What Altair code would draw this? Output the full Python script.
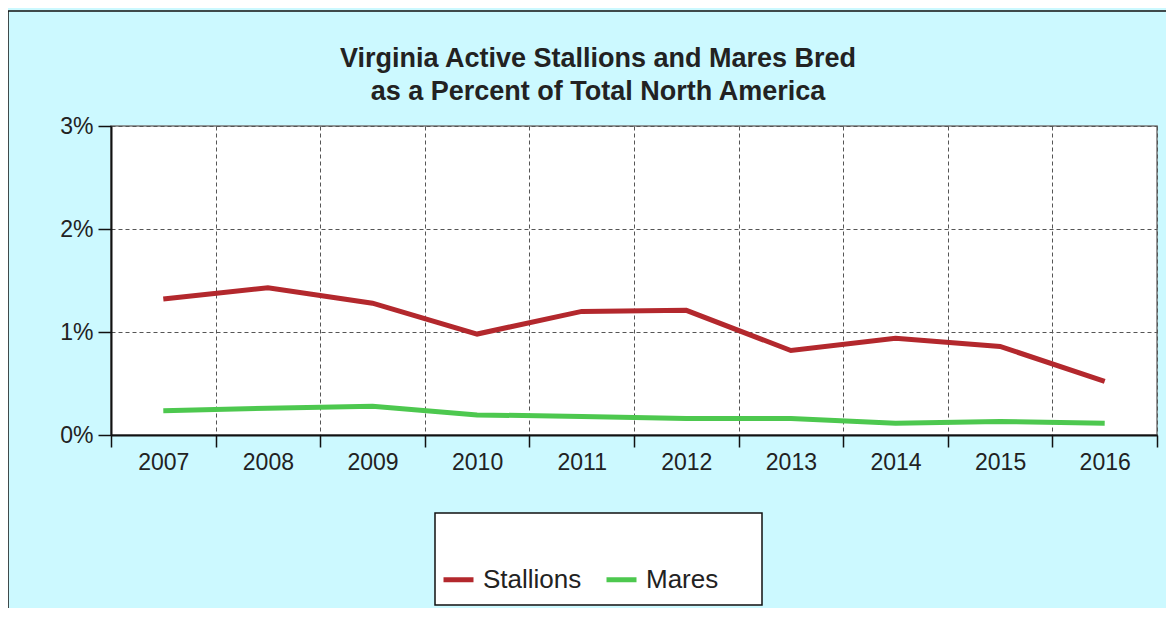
import altair as alt
import pandas as pd

years = ["2007", "2008", "2009", "2010", "2011", "2012", "2013", "2014", "2015", "2016"]
stallions = [1.32, 1.43, 1.28, 0.98, 1.20, 1.21, 0.82, 0.94, 0.86, 0.52]
mares = [0.235, 0.26, 0.28, 0.195, 0.18, 0.16, 0.16, 0.115, 0.13, 0.115]
series_names = ["Stallions", "Mares"]
series_colors = ["#B3282D", "#4DC84F"]
y_ticks = [0.0, 0.01, 0.02, 0.03]
title_text = "Virginia Active Stallions and Mares Bred\nas a Percent of Total North America"

rows = []
for name, vals in zip(series_names, [stallions, mares]):
    for yr, v in zip(years, vals):
        rows.append({"year": yr, "series": name, "value": v / 100.0})
df = pd.DataFrame(rows)

W, H = 1046, 309
FONT = "Liberation Sans"

one = pd.DataFrame({"k": [0]})

frame = alt.Chart(one).mark_rect(fill=None, stroke="#111111", strokeWidth=1.5).encode(
    x=alt.value(-103), x2=alt.value(1100), y=alt.value(-115), y2=alt.value(520)
)

legend_box = alt.Chart(one).mark_rect(fill="white", stroke="#111111", strokeWidth=1.5).encode(
    x=alt.value(324), x2=alt.value(651), y=alt.value(387), y2=alt.value(479)
)

title = alt.Chart(one).mark_text(
    font=FONT, fontSize=27, fontWeight="bold", color="#222222", lineBreak="\n",
    lineHeight=33, align="center", baseline="alphabetic",
).encode(x=alt.value(487), y=alt.value(-59), text=alt.value(title_text))

lines = alt.Chart(df).mark_line(strokeWidth=5).encode(
    x=alt.X(
        "year:N",
        sort=years,
        scale=alt.Scale(type="band", paddingInner=0, paddingOuter=0),
        axis=alt.Axis(
            title=None, tickBand="extent", grid=True, gridDash=[4, 3], gridColor="#555555",
            gridWidth=1, gridOpacity=1, labelAngle=0, labelFontSize=23, labelFont=FONT,
            labelColor="#222222", labelPadding=4, tickSize=12, tickColor="#111111",
            tickWidth=1.5, domainColor="#111111", domainWidth=2,
        ),
    ),
    y=alt.Y(
        "value:Q",
        scale=alt.Scale(domain=[0, 0.03], nice=False),
        axis=alt.Axis(
            title=None, values=y_ticks, format=".0%", grid=True, gridDash=[4, 3],
            gridColor="#555555", gridWidth=1, gridOpacity=1, labelFontSize=23,
            labelFont=FONT, labelColor="#222222", labelPadding=5, tickSize=13,
            tickColor="#111111", tickWidth=1.5, domainColor="#111111", domainWidth=2,
        ),
    ),
    color=alt.Color(
        "series:N",
        sort=series_names,
        scale=alt.Scale(domain=series_names, range=series_colors),
        legend=alt.Legend(
            title=None, orient="none", legendX=330, legendY=436, direction="horizontal",
            symbolType="stroke", symbolStrokeWidth=5, symbolSize=900, labelFontSize=26,
            labelFont=FONT, labelColor="#222222", labelOffset=7, columnPadding=14,
            padding=0,
        ),
    ),
    detail="series:N",
)

chart = alt.layer(frame, legend_box, title, lines).properties(
    width=W,
    height=H,
    background="#CCF9FF",
    padding={"left": 103, "top": 118, "right": 9, "bottom": 173},
    autosize=alt.AutoSizeParams(type="none"),
).configure_view(fill="white", stroke="#777777", strokeWidth=1.5)

chart.save("out.html", embed_options={"renderer": "svg", "actions": False})
